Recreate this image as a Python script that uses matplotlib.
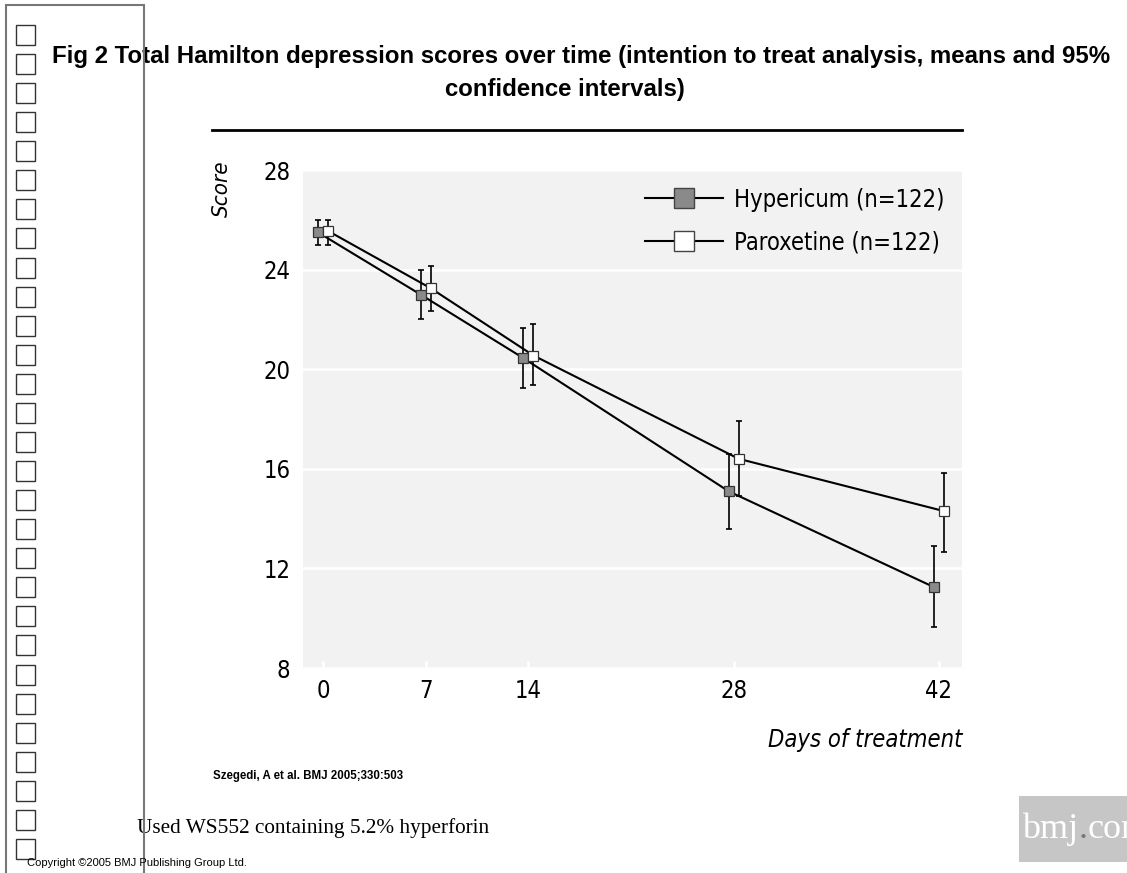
import matplotlib
matplotlib.use("Agg")
import matplotlib.pyplot as plt
from matplotlib.lines import Line2D
from matplotlib.patches import Rectangle
from matplotlib.text import Annotation
from matplotlib import font_manager
import numpy as np

# ---- datos ----
days = [0, 7, 14, 28, 42]
hyp_mean = [25.5, 23.0, 20.45, 15.1, 11.25]
hyp_lo = [25.0, 22.0, 19.25, 13.6, 9.65]
hyp_hi = [26.0, 24.0, 21.65, 16.6, 12.9]
par_mean = [25.55, 23.25, 20.55, 16.4, 14.3]
par_lo = [25.0, 22.35, 19.35, 14.9, 12.65]
par_hi = [26.0, 24.15, 21.8, 17.9, 15.85]
y_ticks = [8, 12, 16, 20, 24, 28]
labels = ["Hypericum (n=122)", "Paroxetine (n=122)"]

W, H = 1127, 873
ARIAL = ["Liberation Sans", "DejaVu Sans"]
SERIF = ["Liberation Serif", "DejaVu Serif"]

# fuente condensada si existe
nombres = {f.name for f in font_manager.fontManager.ttflist}
cond = [f for f in font_manager.fontManager.ttflist
        if f.name == "DejaVu Sans" and f.stretch == "condensed"]
if "Liberation Sans Narrow" in nombres:
    NARROW = dict(family=["Liberation Sans Narrow", "DejaVu Sans"])
elif cond:
    NARROW = dict(family=["DejaVu Sans"], stretch="condensed")
else:
    NARROW = dict(family=ARIAL)


def fx(px):
    return px / W


def fy(py):
    return 1 - py / H


fig = plt.figure(figsize=(W / 100, H / 100), dpi=100)
fig.patch.set_facecolor("white")

# ---- panel izquierdo con casillas ----
fig.add_artist(Rectangle((fx(6), fy(880)), fx(138), 875 / H, transform=fig.transFigure,
                         fill=False, edgecolor="#777777", linewidth=1.5, zorder=5))
for i in range(29):
    top = 25 + i * 29.07
    fig.add_artist(Rectangle((fx(16), fy(top + 20)), fx(19), 20 / H, transform=fig.transFigure,
                             facecolor="white", edgecolor="#333333", linewidth=1.0, zorder=6))

# ---- titulo ----
fig.text(fx(52), fy(63), "Fig 2 Total Hamilton depression scores over time (intention to treat analysis, means and 95%",
         family=ARIAL, fontweight="bold", fontsize=17.3, ha="left", va="baseline")
fig.text(fx(565), fy(96), "confidence intervals)",
         family=ARIAL, fontweight="bold", fontsize=17.3, ha="center", va="baseline")
fig.add_artist(Line2D([fx(212), fx(962)], [fy(130), fy(130)], transform=fig.transFigure,
                      color="black", linewidth=2))

# ---- grafico ----
ax = fig.add_axes([fx(303), fy(668), fx(962) - fx(303), fy(170) - fy(668)])
ax.set_facecolor("#f2f2f2")
for s in ax.spines.values():
    s.set_visible(False)

d = 0.35
x_h = np.array(days) - d
x_p = np.array(days) + d
hm, pm = np.array(hyp_mean), np.array(par_mean)
yerr_h = [hm - np.array(hyp_lo), np.array(hyp_hi) - hm]
yerr_p = [pm - np.array(par_lo), np.array(par_hi) - pm]

ax.errorbar(x_h, hm, yerr=yerr_h, fmt="none", ecolor="black", elinewidth=1.2,
            capsize=2.5, capthick=1.2, zorder=3)
ax.errorbar(x_p, pm, yerr=yerr_p, fmt="none", ecolor="black", elinewidth=1.2,
            capsize=2.5, capthick=1.2, zorder=3)
ax.plot(x_h, hm, color="black", linewidth=1.5, marker="s", markersize=7,
        markerfacecolor="#8a8a8a", markeredgecolor="#333333", markeredgewidth=0.9, zorder=4)
ax.plot(x_p, pm, color="black", linewidth=1.5, marker="s", markersize=7,
        markerfacecolor="white", markeredgecolor="#333333", markeredgewidth=0.9, zorder=4)

ax.set_xlim(-1.364, 43.57)
ax.set_ylim(8, 28)
ax.set_xticks(days)
ax.set_yticks(y_ticks)
ax.grid(axis="y", color="white", linewidth=1.8)
ax.set_axisbelow(True)
ax.tick_params(axis="x", direction="in", length=5, width=2, color="white", pad=8)
ax.tick_params(axis="y", length=0, pad=9)
for lab in ax.get_xticklabels() + ax.get_yticklabels():
    lab.set(**NARROW)
    lab.set_fontsize(17)

handles = [
    Line2D([], [], color="black", linewidth=1.5, marker="s", markersize=14,
           markerfacecolor="#8a8a8a", markeredgecolor="#444444"),
    Line2D([], [], color="black", linewidth=1.5, marker="s", markersize=14,
           markerfacecolor="white", markeredgecolor="#444444"),
]
leg = ax.legend(handles, labels, loc="upper right", bbox_to_anchor=(1.0, 1.0), frameon=False,
                prop=dict(size=17, **NARROW), handlelength=3.3, handletextpad=0.45,
                labelspacing=0.8, borderaxespad=0.35)

fig.text(fx(222), fy(189), "Score", style="italic", fontsize=16,
         rotation=90, ha="center", va="center", **NARROW)
fig.text(fx(962), fy(740), "Days of treatment", style="italic", fontsize=17,
         ha="right", va="center", **NARROW)

# ---- pie ----
fig.text(fx(213), fy(779), "Szegedi, A et al. BMJ 2005;330:503", family=ARIAL,
         fontweight="bold", fontsize=8.3, ha="left", va="baseline")
fig.text(fx(137), fy(833), "Used WS552 containing 5.2% hyperforin",
         family=SERIF, fontsize=15.3, ha="left", va="baseline")
fig.text(fx(27), fy(866), "Copyright \u00a92005 BMJ Publishing Group Ltd.", family=ARIAL,
         fontsize=8, ha="left", va="baseline", zorder=7)

# logo bmj.com (recortado en el borde, como en el original)
fig.add_artist(Rectangle((fx(1019), fy(862)), fx(120), 66 / H, transform=fig.transFigure,
                         facecolor="#c6c6c6", edgecolor="none", zorder=8))
t1 = fig.text(fx(1022), fy(838), "bmj", family=SERIF, fontsize=26, color="white",
              ha="left", va="baseline", zorder=9)
dot = Annotation(".", xy=(1, 0), xycoords=t1, family=SERIF, fontsize=26,
                 color="#777777", ha="left", va="bottom", annotation_clip=False, zorder=9)
fig.add_artist(dot)
com = Annotation("com", xy=(1, 0), xycoords=dot, family=SERIF, fontsize=26,
                 color="white", ha="left", va="bottom", annotation_clip=False, zorder=9)
fig.add_artist(com)

fig.savefig("out.png", dpi=100)
